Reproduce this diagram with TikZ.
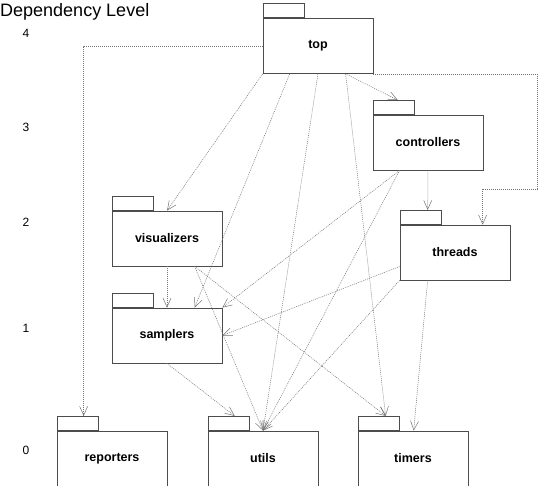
\documentclass[tikz,border=0pt]{standalone}
\usepackage{fontspec}
\setmainfont{Liberation Sans}
\usetikzlibrary{calc,arrows.meta}
\begin{document}
\begin{tikzpicture}[x=1pt,y=-1pt,
  pkg/.style={draw=black!70, line width=0.7pt, fill=white, minimum width=110pt, minimum height=55pt, inner sep=0pt, font=\fontsize{12.5}{14}\selectfont\bfseries},
  pkgtab/.style={draw=black!70, line width=0.7pt, fill=white, minimum width=41pt, minimum height=14pt, inner sep=0pt, anchor=south west},
  dep/.style={draw=black!55, line width=0.5pt, dash pattern=on 1pt off 1pt, -{Straight Barb[length=9pt,width=8pt]}},
  lvl/.style={font=\fontsize{12}{14}\selectfont}]
\useasboundingbox (0,0) rectangle (538,486);
% title and levels
\node[anchor=base west, inner sep=0pt, font=\fontsize{18}{20}\selectfont] (title) at (0,17) {Dependency Level};
\node[lvl] (l4) at (26,33) {4};
\node[lvl] (l3) at (26,127) {3};
\node[lvl] (l2) at (26,222) {2};
\node[lvl] (l1) at (26,328) {1};
\node[lvl] (l0) at (26,450) {0};
% packages
\node[pkg] (top) at (318,46) {top};
\node[pkgtab] (topT) at (top.north west) {};
\node[pkg] (controllers) at (428,142.5) {controllers};
\node[pkgtab] (ctrlT) at (controllers.north west) {};
\node[pkg] (threads) at (455,252.5) {threads};
\node[pkgtab] (threadsT) at (threads.north west) {};
\node[pkg] (visualizers) at (167,238.5) {visualizers};
\node[pkgtab] (visT) at (visualizers.north west) {};
\node[pkg] (samplers) at (167,335.5) {samplers};
\node[pkgtab] (sampT) at (samplers.north west) {};
\node[pkg] (reporters) at (112,458.5) {reporters};
\node[pkgtab] (repT) at (reporters.north west) {};
\node[pkg] (utils) at (263,458.5) {utils};
\node[pkgtab] (utilsT) at (utils.north west) {};
\node[pkg] (timers) at (413,458.5) {timers};
\node[pkgtab] (timT) at (timers.north west) {};
% dependencies
\draw[dep] (top.west) -| ($(repT.north west)+(27,0)$);
\draw[dep] (top.south east) -- ++(164,0) -- ++(0,115) -| ($(threads.north west)+(83,0)$);
\draw[dep] ($(top.south west)+(83,0)$) -- ($(ctrlT.north west)+(25,0)$);
\draw[dep] (top.south west) -- (visualizers.north);
\draw[dep] ($(top.south west)+(27,0)$) -- ($(samplers.north west)+(83,0)$);
\draw[dep] (top.south) -- (utils.north);
\draw[dep] ($(top.south west)+(83,0)$) -- ($(timT.north west)+(28,0)$);
\draw[dep] (controllers.south) -- ($(threadsT.north west)+(28,0)$);
\draw[dep] ($(controllers.south west)+(27,0)$) -- (samplers.north east);
\draw[dep] ($(controllers.south west)+(27,0)$) -- (utils.north);
\draw[dep] ($(threads.west)+(0,14)$) -- (samplers.east);
\draw[dep] (threads.south west) -- (utils.north);
\draw[dep] ($(threads.south west)+(28,0)$) -- ($(timers.north west)+(56,0)$);
\draw[dep] (visualizers.south) -- (samplers.north);
\draw[dep] ($(visualizers.south west)+(83,0)$) -- (utils.north);
\draw[dep] ($(visualizers.south west)+(83,0)$) -- ($(timT.north west)+(28,0)$);
\draw[dep] (samplers.south) -- ($(utilsT.north west)+(27,0)$);
\end{tikzpicture}
\end{document}
